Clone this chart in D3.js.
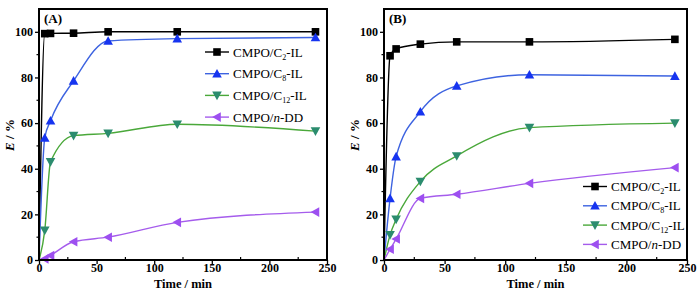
<!DOCTYPE html>
<html>
<head>
<meta charset="utf-8">
<script src="https://cdn.jsdelivr.net/npm/d3@7"></script>
<style>
  body { margin: 0; background: #fff; }
  svg { display: block; }
</style>
</head>
<body>
<script>
var width = 700,
    height = 293;

// sampling times (min); t = 0 only starts the curve, no marker
var times = [0, 5, 10, 30, 60, 120, 240];

// panel (A)
var c2A  = [0, 99.2, 99.3, 99.4, 100, 100, 100];
var c8A  = [0, 53.5, 61, 78.5, 96, 97, 97.5];
var c12A = [0, 13, 43, 54.5, 55.5, 59.5, 56.5];
var ddA  = [0, 0.5, 2, 8, 10, 16.5, 21];

// panel (B)
var c2B  = [0, 89.5, 92.5, 94.6, 95.6, 95.6, 96.7];
var c8B  = [0, 27, 45.3, 65, 76.3, 81.2, 80.6];
var c12B = [0, 11, 17.8, 34.4, 45.6, 58, 60];
var ddB  = [0, 4.7, 9.2, 27, 28.8, 33.6, 40.5];

var xTicks = [0, 50, 100, 150, 200, 250];
var yTicks = [0, 20, 40, 60, 80, 100];

var seriesNames = [["CMPO/C", "2", "-IL"], ["CMPO/C", "8", "-IL"], ["CMPO/C", "12", "-IL"], ["CMPO/", "n", "-DD"]];
var markerColors = ["#000000", "#1634f0", "#2b8c6e", "#9d4ff0"];
var lineColors = ["#000000", "#3d63e0", "#4aa83a", "#a55cec"];
var symbols = ["square", "up", "down", "left"];

var svg = d3.select("body").append("svg")
    .attr("width", width)
    .attr("height", height)
    .style("font-family", "'Liberation Serif', 'Times New Roman', serif");

function marker(g, type, x, y, color) {
  var s = 4.3;
  var pts;
  if (type == "square") {
    g.append("rect").attr("x", x - 3.8).attr("y", y - 3.8)
      .attr("width", 7.6).attr("height", 7.6).attr("fill", color);
    return;
  }
  if (type == "up") pts = [[x, y - s - 0.5], [x - s - 0.5, y + s - 0.5], [x + s + 0.5, y + s - 0.5]];
  if (type == "down") pts = [[x, y + s + 0.5], [x - s - 0.5, y - s + 0.5], [x + s + 0.5, y - s + 0.5]];
  if (type == "left") pts = [[x - s - 0.5, y], [x + s - 0.5, y - s - 0.5], [x + s - 0.5, y + s + 0.5]];
  g.append("polygon").attr("points", pts.map(function(p) { return p.join(","); }).join(" "))
    .attr("fill", color);
}

function drawPanel(opts) {
  var x = d3.scaleLinear().domain([0, 250]).range([opts.left, opts.right]);
  var y = d3.scaleLinear().domain([0, 110]).range([260, 9]);
  var g = svg.append("g");

  // lines
  var line = d3.line()
    .x(function(d) { return x(d[0]); })
    .y(function(d) { return y(d[1]); })
    .curve(d3.curveMonotoneX);

  opts.series.forEach(function(vals, i) {
    var pts = times.map(function(t, j) { return [t, vals[j]]; });
    g.append("path")
      .datum(pts)
      .attr("d", line)
      .attr("fill", "none")
      .attr("stroke", lineColors[i])
      .attr("stroke-width", 1.4);
  });
  // markers, drawn on top
  opts.series.forEach(function(vals, i) {
    times.forEach(function(t, j) {
      if (t == 0) return;
      marker(g, symbols[i], x(t), y(vals[j]), markerColors[i]);
    });
  });

  // frame
  g.append("rect")
    .attr("x", opts.left).attr("y", 9)
    .attr("width", opts.right - opts.left).attr("height", 251)
    .attr("fill", "none").attr("stroke", "#000").attr("stroke-width", 2);

  // axes
  var xAxis = d3.axisBottom(x).tickValues(xTicks).tickSize(4).tickSizeOuter(0);
  var yAxis = d3.axisLeft(y).tickValues(yTicks).tickSize(4).tickSizeOuter(0);

  var gx = g.append("g").attr("transform", "translate(0,260)").call(xAxis);
  var gy = g.append("g").attr("transform", "translate(" + opts.left + ",0)").call(yAxis);
  [gx, gy].forEach(function(a) {
    a.attr("font-family", null).attr("font-size", null);
    a.select(".domain").remove();
    a.selectAll("line").attr("stroke", "#000").attr("stroke-width", 1.3);
    a.selectAll("text").attr("fill", "#000")
      .style("font-size", "12px").style("font-weight", "bold")
      .style("font-family", "'Liberation Serif', serif");
  });
  gx.selectAll("text").attr("y", 3.5);
  gy.selectAll("text").attr("x", -6);

  // minor ticks
  [25, 75, 125, 175, 225].forEach(function(t) {
    g.append("line").attr("x1", x(t)).attr("x2", x(t))
      .attr("y1", 260).attr("y2", 257).attr("stroke", "#000").attr("stroke-width", 1.2);
  });
  [10, 30, 50, 70, 90].forEach(function(t) {
    g.append("line").attr("x1", opts.left).attr("x2", opts.left - 2.5)
      .attr("y1", y(t)).attr("y2", y(t)).attr("stroke", "#000").attr("stroke-width", 1.2);
  });

  // axis titles
  g.append("text")
    .attr("x", (opts.left + opts.right) / 2).attr("y", 288)
    .attr("text-anchor", "middle")
    .style("font-size", "12.5px").style("font-weight", "bold")
    .text("Time / min");

  var yl = g.append("text")
    .attr("transform", "translate(" + (opts.left - 25) + ",135) rotate(-90)")
    .attr("text-anchor", "middle")
    .style("font-size", "13px").style("font-weight", "bold");
  yl.append("tspan").style("font-style", "italic").text("E");
  yl.append("tspan").text(" / %");

  // panel label
  g.append("text")
    .attr("x", opts.left + 5).attr("y", 23)
    .style("font-size", "13px").style("font-weight", "bold")
    .text(opts.label);

  // legend
  seriesNames.forEach(function(nm, i) {
    var ly = opts.legY + i * opts.legStep;
    var lx = opts.legX;
    g.append("line").attr("x1", lx).attr("x2", lx + 24)
      .attr("y1", ly).attr("y2", ly)
      .attr("stroke", lineColors[i]).attr("stroke-width", 1.4);
    marker(g, symbols[i], lx + 12, ly, markerColors[i]);
    var t = g.append("text").attr("x", lx + 28).attr("y", ly + 4.5)
      .style("font-size", "13px");
    t.append("tspan").text(nm[0]);
    if (i < 3) {
      t.append("tspan").attr("dy", 3).style("font-size", "8px").text(nm[1]);
      t.append("tspan").attr("dy", -3).text(nm[2]);
    } else {
      t.append("tspan").style("font-style", "italic").text(nm[1]);
      t.append("tspan").text(nm[2]);
    }
  });
}

drawPanel({
  left: 39, right: 327, label: "(A)",
  series: [c2A, c8A, c12A, ddA],
  legX: 205, legY: 52, legStep: 21.7
});

drawPanel({
  left: 384, right: 687, label: "(B)",
  series: [c2B, c8B, c12B, ddB],
  legX: 583, legY: 186.5, legStep: 19.3
});
</script>
</body>
</html>
